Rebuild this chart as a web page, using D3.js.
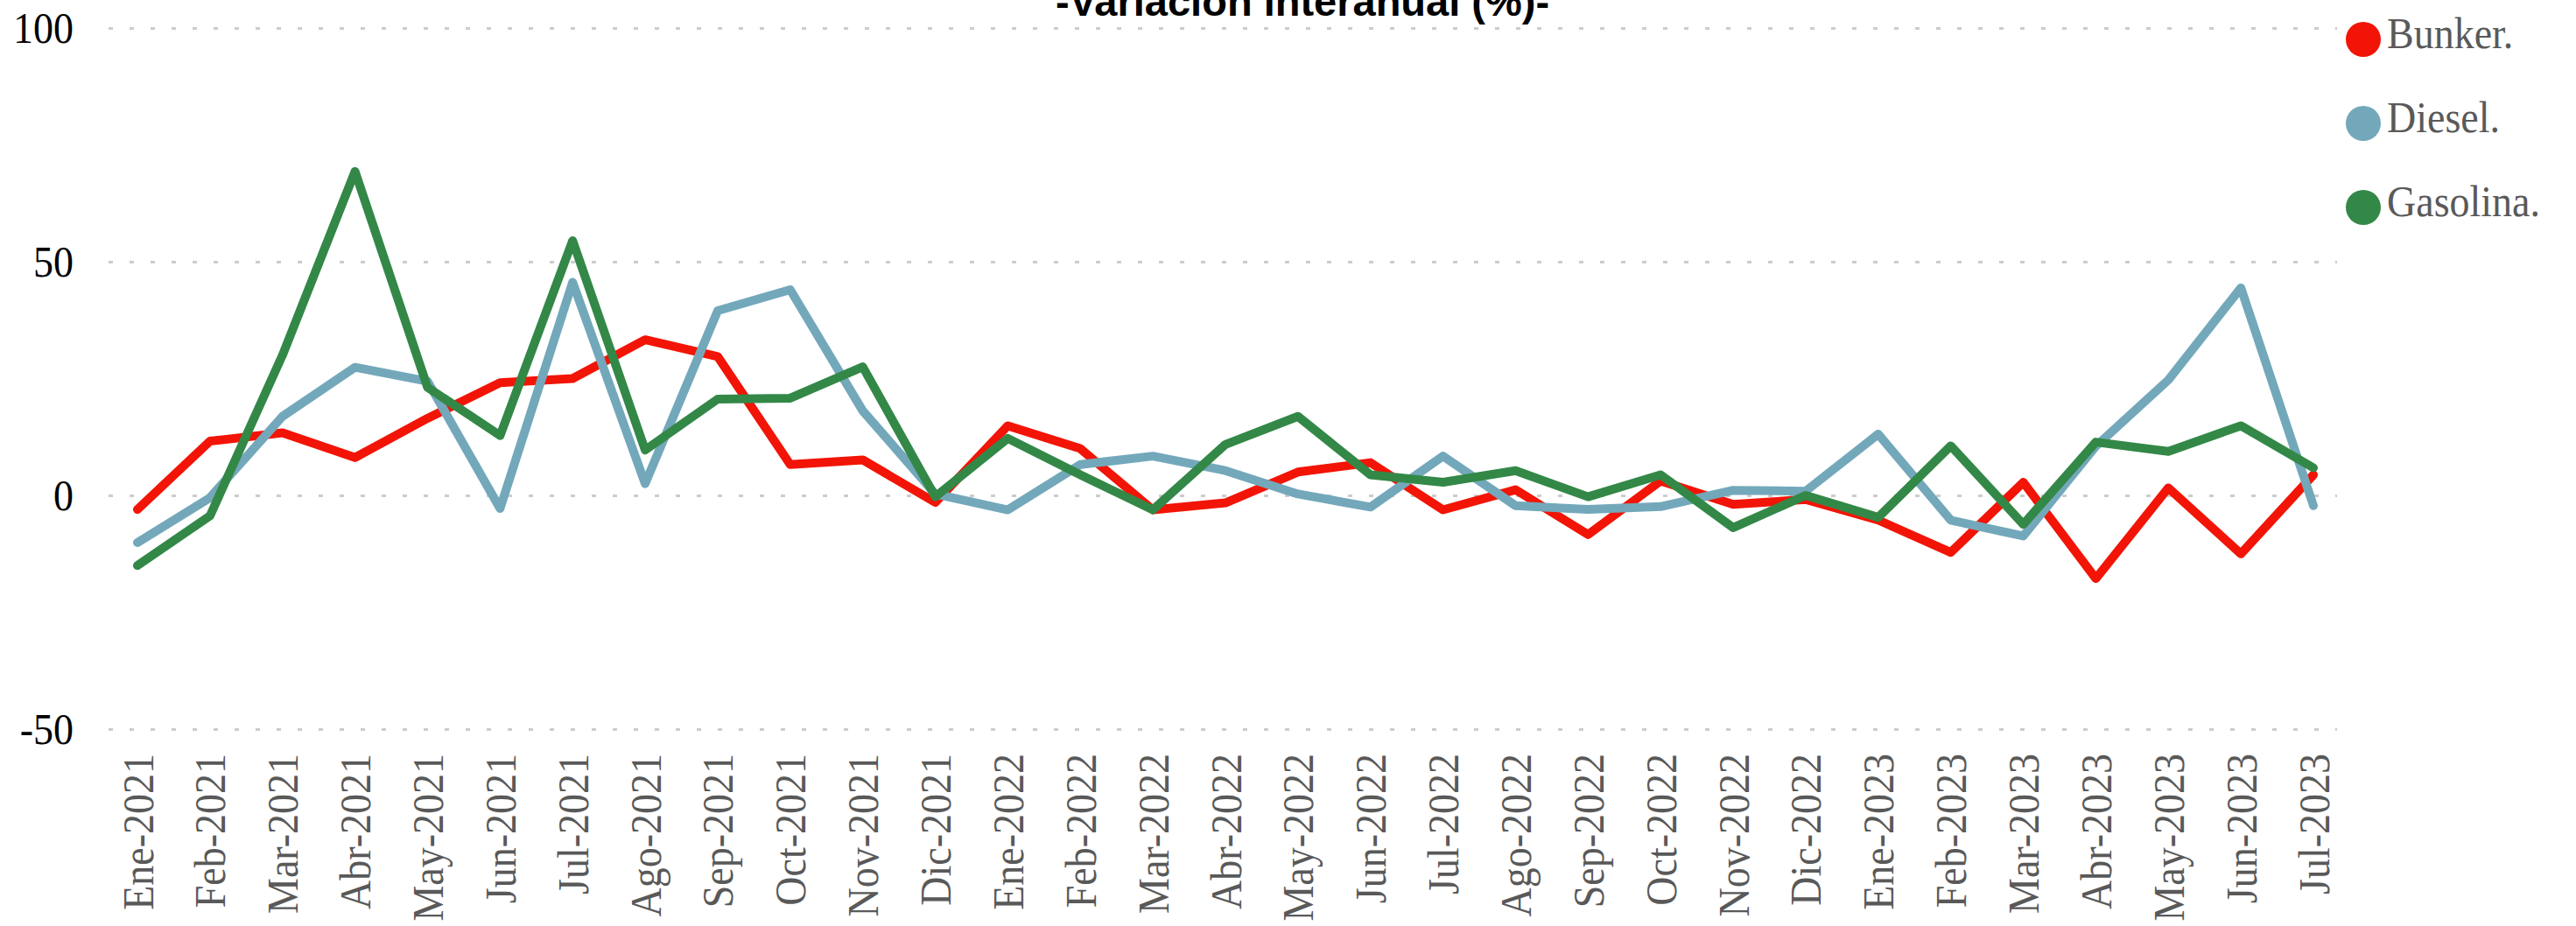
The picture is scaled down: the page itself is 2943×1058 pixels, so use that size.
<!DOCTYPE html>
<html>
<head>
<meta charset="utf-8">
<script src="https://cdn.jsdelivr.net/npm/d3@7"></script>
<style>
  body { margin: 0; background: #fff; }
  .grid line { stroke: #cccccc; stroke-width: 3; stroke-dasharray: 5 19; }
  .grid text { font-family: "Liberation Serif", "Times New Roman", serif; font-size: 50px; fill: #000; }
  .x-axis text { font-family: "Liberation Serif", "Times New Roman", serif; font-size: 50px; fill: #595959; }
  .legend text { font-family: "Liberation Serif", "Times New Roman", serif; font-size: 50px; fill: #595959; }
</style>
</head>
<body>
<div id="d3-container"></div>
<script>
/**
 * CONSTANTS AND GLOBALS
 * */
const width = 2943,
  height = 1058,
  margin = { top: 32, bottom: 225, left: 124, right: 273 },
  squeeze = 0.92; // serif text in the original is a bit narrow

// DATA
const months = [
  "Ene-2021", "Feb-2021", "Mar-2021", "Abr-2021", "May-2021", "Jun-2021",
  "Jul-2021", "Ago-2021", "Sep-2021", "Oct-2021", "Nov-2021", "Dic-2021",
  "Ene-2022", "Feb-2022", "Mar-2022", "Abr-2022", "May-2022", "Jun-2022",
  "Jul-2022", "Ago-2022", "Sep-2022", "Oct-2022", "Nov-2022", "Dic-2022",
  "Ene-2023", "Feb-2023", "Mar-2023", "Abr-2023", "May-2023", "Jun-2023",
  "Jul-2023"
];

const bunker = [
  -3, 11.6, 13.4, 8.1, 16.5, 24.1, 25, 33.3, 29.7, 6.6, 7.6, -1.5,
  14.9, 10, -3.1, -1.6, 5, 7, -3.1, 1.2, -8.4, 3.1, -1.9, -0.9,
  -5.3, -12.2, 2.8, -17.8, 1.6, -12.5, 4.4
];

const diesel = [
  -10.1, -0.5, 16.9, 27.4, 24.4, -2.8, 45.6, 2.5, 39.5, 44, 18.1, 0.3,
  -3.1, 6.6, 8.4, 5.3, 0.3, -2.5, 8.4, -2.2, -3, -2.4, 1.1, 0.9,
  13.1, -5.3, -8.7, 10.5, 24.7, 44.4, -2.2
];

const gasolina = [
  -15, -4.4, 30, 69.3, 23.1, 12.8, 54.5, 9.7, 20.6, 20.8, 27.5, -0.3,
  12.2, 4.4, -3.1, 10.9, 16.9, 4.4, 2.8, 5.3, -0.3, 4.4, -6.9, 0,
  -4.7, 10.6, -6.2, 11.4, 9.4, 14.9, 5.9
];

const seriesNames = ["Bunker.", "Diesel.", "Gasolina."];
const seriesColors = ["#f21406", "#73a8bb", "#338847"];
const yTicks = [-50, 0, 50, 100];

const series = [bunker, diesel, gasolina].map((values, i) => ({
  name: seriesNames[i],
  color: seriesColors[i],
  values: values
}));

let svg;
let xScale;
let yScale;

init();

function init() {
  svg = d3
    .select("#d3-container")
    .append("svg")
    .attr("width", width)
    .attr("height", height);

  // SCALES
  xScale = d3
    .scalePoint()
    .domain(months)
    .range([margin.left + 33, width - margin.right - 27]);

  yScale = d3
    .scaleLinear()
    .domain([-50, 100])
    .range([height - margin.bottom, margin.top]);

  // dotted gridlines + y labels
  const yAxis = d3
    .axisLeft(yScale)
    .tickValues(yTicks)
    .tickSize(-(width - margin.left - margin.right))
    .tickFormat(d => d);

  svg
    .append("g")
    .attr("class", "grid")
    .attr("transform", `translate(${margin.left},0)`)
    .call(yAxis)
    .call(g => g.select(".domain").remove())
    .selectAll("text")
    .attr("x", 0)
    .attr("transform", `translate(-40,0) scale(${squeeze},1)`);

  // x axis labels, rotated
  const xAxis = d3.axisBottom(xScale).tickSize(0).tickPadding(0);

  svg
    .append("g")
    .attr("class", "x-axis")
    .attr("transform", `translate(0,${yScale(-50)})`)
    .call(xAxis)
    .call(g => g.select(".domain").remove())
    .selectAll("text")
    .attr("transform", `translate(0,28) rotate(-90) scale(${squeeze},1)`)
    .attr("text-anchor", "end")
    .attr("x", 0)
    .attr("y", 0)
    .attr("dy", "0.34em");

  // title (top cut off, like the original)
  svg
    .append("text")
    .attr("x", 1488)
    .attr("y", 18)
    .attr("text-anchor", "middle")
    .style("font-family", "'Liberation Sans', Arial, sans-serif")
    .style("font-weight", "bold")
    .style("font-size", "47px")
    .text("-Variación interanual (%)-");

  // LINES
  const line = d3
    .line()
    .x((d, i) => xScale(months[i]))
    .y(d => yScale(d));

  svg
    .selectAll(".series")
    .data(series)
    .join("path")
    .attr("class", "series")
    .attr("fill", "none")
    .attr("stroke", d => d.color)
    .attr("stroke-width", 10)
    .attr("stroke-linejoin", "round")
    .attr("stroke-linecap", "round")
    .attr("d", d => line(d.values));

  // LEGEND
  const legend = svg
    .append("g")
    .attr("class", "legend")
    .attr("transform", "translate(2700,45)");

  const item = legend
    .selectAll("g")
    .data(series)
    .join("g")
    .attr("transform", (d, i) => `translate(0,${i * 96})`);

  item.append("circle").attr("r", 20).attr("fill", d => d.color);

  item
    .append("text")
    .attr("transform", `translate(27,10) scale(${squeeze},1)`)
    .text(d => d.name);
}
</script>
</body>
</html>
